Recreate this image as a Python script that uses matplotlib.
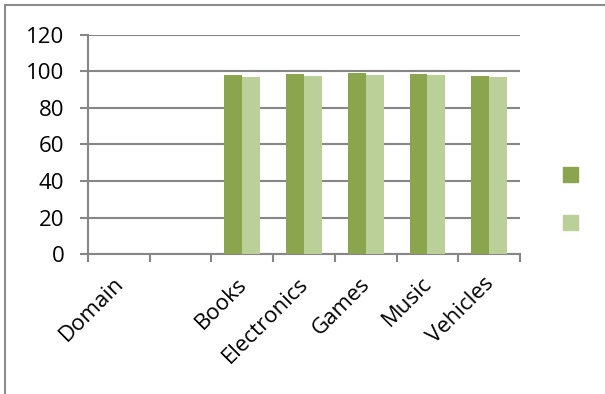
import numpy as np
import matplotlib.pyplot as plt
from matplotlib.patches import Rectangle, Patch
from matplotlib.transforms import ScaledTranslation

plt.rcParams['font.family'] = ['Open Sans', 'DejaVu Sans']

categories = ['Domain', '', 'Books', 'Electronics', 'Games', 'Music', 'Vehicles']
series_a = [np.nan, np.nan, 98.1, 98.5, 99.0, 98.5, 97.5]
series_b = [np.nan, np.nan, 97.0, 97.4, 98.3, 98.2, 97.0]

fig = plt.figure(figsize=(6.05, 3.94), dpi=100)
ax = fig.add_axes([0.1455, 0.3553, 0.714, 0.556])

x = np.arange(len(categories))
w = 0.29
ax.bar(x - w / 2, series_a, w, color='#8aa54e', zorder=3)
ax.bar(x + w / 2, series_b, w, color='#bbd098', zorder=3)

ax.set_xlim(-0.5, len(categories) - 0.5)
ax.set_ylim(0, 120)
ax.set_yticks(range(0, 121, 20))
ax.grid(axis='y', color='#868686', linewidth=1.5, zorder=0)

ax.set_xticks(np.arange(-0.5, len(categories)), labels=[])
ax.set_xticks(x, labels=categories, minor=True)
ax.tick_params(axis='x', which='major', length=6, width=1.5, color='#868686', direction='out')
ax.tick_params(axis='x', which='minor', length=0, pad=14, labelsize=16)
shift = ScaledTranslation(-0.06, 0, fig.dpi_scale_trans)
for lab in ax.get_xticklabels(minor=True):
    lab.set_rotation(45)
    lab.set_ha('right')
    lab.set_va('top')
    lab.set_rotation_mode('anchor')
    lab.set_transform(lab.get_transform() + shift)
ax.tick_params(axis='y', length=6, width=1.5, color='#868686', labelsize=16, pad=11)

for s in ['top', 'right']:
    ax.spines[s].set_visible(False)
for s in ['left', 'bottom']:
    ax.spines[s].set_color('#868686')
    ax.spines[s].set_linewidth(1.5)

handles = [Patch(color='#8aa54e'), Patch(color='#bbd098')]
fig.legend(handles, ['', ''], loc='center left', bbox_to_anchor=(0.902, 0.492),
           frameon=False, handlelength=0.8, handleheight=0.8, labelspacing=1.6,
           handletextpad=0, fontsize=13.5)

fig.patches.append(Rectangle((5 / 605, -0.1), 1.2, 1 - 5 / 394 + 0.1, transform=fig.transFigure,
                             fill=False, edgecolor='#8c8c8c', linewidth=1.5))

fig.savefig('out.png', dpi=100)
